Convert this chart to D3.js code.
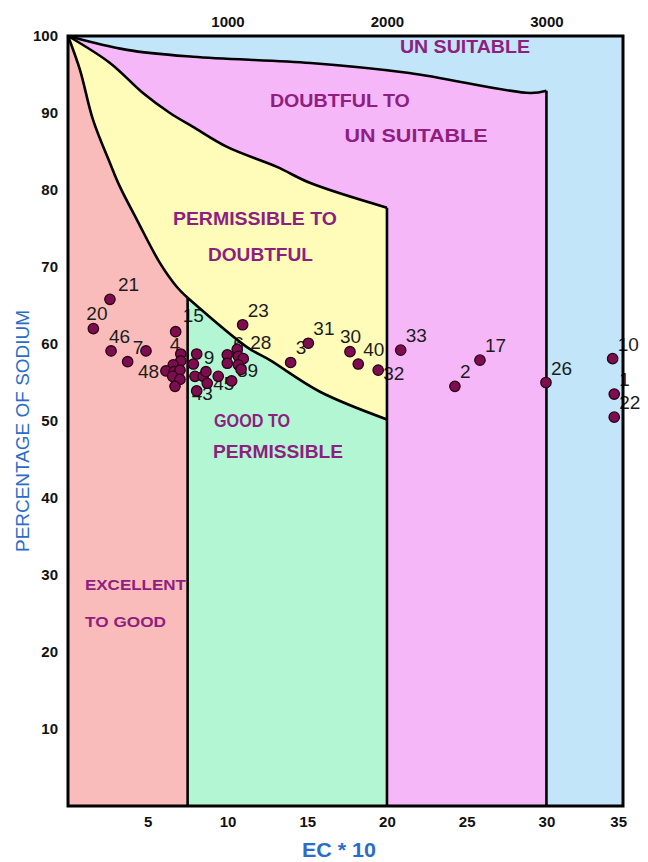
<!DOCTYPE html>
<html><head><meta charset="utf-8">
<script src="https://cdn.jsdelivr.net/npm/d3@7"></script>
<style>body{margin:0;background:#fff}svg{display:block}</style>
</head><body><svg id="c" width="648" height="862"></svg>
<script>
// ---------- DATA ----------
const sampleIds = ["21","20","46","7","","15","4","9","","","","48","","","","","","","","","","45","","43","","","6","","28","","39","23","3","31","30","40","32","33","2","17","26","10","1","22"];
const ecValues  = [2.63,1.59,2.70,3.74,4.89,6.75,7.07,8.07,7.07,6.60,7.86,6.14,6.65,7.02,6.56,7.02,6.71,7.96,8.48,8.65,8.73,9.42,10.26,8.07,9.99,9.99,10.61,10.68,10.99,10.68,10.85,10.95,13.96,15.07,17.68,18.20,19.45,20.86,24.26,25.83,29.97,34.15,34.25,34.25];
const sodiumPct = [65.8,62.0,59.1,57.7,59.1,61.6,58.7,58.7,57.8,57.3,57.4,56.5,56.4,56.6,55.8,55.4,54.5,55.8,55.8,56.4,54.9,55.8,55.2,53.9,58.6,57.5,59.3,58.4,58.1,57.3,56.7,62.5,57.6,60.1,59.0,57.4,56.6,59.2,54.5,57.9,55.0,58.1,53.5,50.5];

const yTickValues = [10,20,30,40,50,60,70,80,90,100];
const xTickValues = [5,10,15,20,25,30,35];
const topTickValues = [1000,2000,3000];

// class boundaries (EC*10, % Na)
const excellentCurveEc = [0,0.75,1.57,2.63,3.26,4.33,5.77,6.83,7.5];
const excellentCurveNa = [100,95.6,89.1,83.5,80.4,76.1,70.5,67.4,66.0];
const goodCurveEc = [7.5,11.22,12.66,15.8,20];
const goodCurveNa = [66.0,59.6,57.9,53.8,50.2];
const permissibleCurveEc = [0,2.63,4.70,6.39,7.84,9.97,13.1,15.2,20];
const permissibleCurveNa = [100,96.5,92.6,90.0,88.2,85.6,83.0,80.9,77.7];
const doubtfulCurveEc = [0,3.7,7.84,15.2,21.4,28.97,30];
const doubtfulCurveNa = [100,98.2,97.3,96.5,95.2,92.6,92.9];

const classNames = ["UN SUITABLE","DOUBTFUL TO","UN SUITABLE","PERMISSIBLE TO","DOUBTFUL","GOOD TO","PERMISSIBLE","EXCELLENT","TO GOOD"];

// ---------- LAYOUT ----------
const X0 = 0, X1 = 34.8;
const svg = d3.select("#c");
const x = d3.scaleLinear().domain([X0, X1]).range([68, 623]);
const y = d3.scaleLinear().domain([0, 100]).range([806, 36]);

const colors = {pink:"#f9bcbb", yellow:"#fffcb9", green:"#b3f6d4", magenta:"#f6b7f9", blue:"#c2e5f9", text:"#8e1f80", axisTitle:"#2a6cc8", point:"#7d0d4f"};

const zip = (a,b) => a.map((v,i)=>[v,b[i]]);
const excellent = zip(excellentCurveEc, excellentCurveNa);
const good = zip(goodCurveEc, goodCurveNa);
const permissible = zip(permissibleCurveEc, permissibleCurveNa);
const doubtful = zip(doubtfulCurveEc, doubtfulCurveNa);

const curveLine = d3.line().x(d=>x(d[0])).y(d=>y(d[1])).curve(d3.curveCatmullRom.alpha(0.5));
const polyPath = (curvePts, closing) => {
  const p = curveLine(curvePts);
  return p + closing.map(d=>"L"+x(d[0])+","+y(d[1])).join("") + "Z";
};
const last = a => a[a.length-1];

// fills
svg.append("rect").attr("x", x(X0)).attr("y", y(100)).attr("width", x(X1)-x(X0)).attr("height", y(0)-y(100)).attr("fill", colors.blue);
svg.append("path").attr("d", polyPath(doubtful, [[last(doubtfulCurveEc),0],[0,0]])).attr("fill", colors.magenta);
svg.append("path").attr("d", polyPath(permissible, [[last(permissibleCurveEc),0],[0,0]])).attr("fill", colors.yellow);
svg.append("path").attr("d", polyPath(good, [[last(goodCurveEc),0],[goodCurveEc[0],0]])).attr("fill", colors.green);
svg.append("path").attr("d", polyPath(excellent, [[last(excellentCurveEc),0],[0,0]])).attr("fill", colors.pink);

// class labels
const classPos = [[24.89,98.57],[17.05,91.69],[21.82,87.14],[11.72,76.36],[12.07,71.62],[11.54,50.0],[13.17,46.1],[4.23,28.7],[3.61,23.9]];
const classSize = [18,19,19,18,18,18,18,15,15];
const classLen = [130,140,143,164,105,76,130,101,81];
svg.append("g").selectAll("text").data(classNames).join("text")
  .attr("x", (d,i)=>x(classPos[i][0]))
  .attr("y", (d,i)=>y(classPos[i][1]) + classSize[i]*0.36)
  .attr("text-anchor","middle")
  .attr("font-family","'Liberation Sans', Arial, sans-serif")
  .attr("font-weight","bold")
  .attr("font-size",(d,i)=>classSize[i])
  .attr("textLength",(d,i)=>classLen[i])
  .attr("lengthAdjust","spacingAndGlyphs")
  .attr("fill", colors.text)
  .text(d=>d);

// point labels (under lines and points)
const labelOffset = {"20":[-7,-9],"46":[-2,-8],"4":[-11,-3],"9":[7,10],"48":[-28,7],"6":[-4,1],"39":[-4,8],"45":[-5,14],"43":[-5,9],"30":[-10,-9],"32":[5,10],"21":[8,-8],"15":[7,-10],"28":[7,-10]};
const pts = sampleIds.map((id,i)=>({id, ec:ecValues[i], na:sodiumPct[i]}));
svg.append("g").selectAll("text").data(pts.filter(d=>d.id!=="")).join("text")
  .attr("x", d=>x(d.ec) + (labelOffset[d.id]||[5,-8])[0])
  .attr("y", d=>y(d.na) + (labelOffset[d.id]||[5,-8])[1])
  .attr("font-family","'Liberation Sans', Arial, sans-serif")
  .attr("font-size",19)
  .attr("fill","#1c1c1c")
  .text(d=>d.id);

// boundary lines
const lineG = svg.append("g").attr("fill","none").attr("stroke","#000").attr("stroke-width",2.6).attr("stroke-linejoin","round");
const plainLine = d3.line().x(d=>x(d[0])).y(d=>y(d[1]));
[excellent, good, permissible, doubtful].forEach(c=>lineG.append("path").attr("d", curveLine(c)));
lineG.append("path").attr("d", plainLine([[7.5,0],[7.5,last(excellentCurveNa)]]));
lineG.append("path").attr("d", plainLine([[20,0],[20,last(permissibleCurveNa)]]));
lineG.append("path").attr("d", plainLine([[30,0],[30,last(doubtfulCurveNa)]]));
svg.append("rect").attr("x", x(X0)).attr("y", y(100)).attr("width", x(X1)-x(X0)).attr("height", y(0)-y(100))
  .attr("fill","none").attr("stroke","#000").attr("stroke-width",3);

// points
svg.append("g").selectAll("circle").data(pts).join("circle")
  .attr("cx", d=>x(d.ec)).attr("cy", d=>y(d.na)).attr("r",5.2)
  .attr("fill", colors.point).attr("stroke","#2a0016").attr("stroke-width",1.3);

// axes
const styleAxis = (g, size) => {
  g.select(".domain").remove();
  g.selectAll("line").remove();
  g.selectAll("text").attr("font-family","'Liberation Sans', Arial, sans-serif").attr("font-weight","bold").attr("font-size",size).attr("fill","#111");
};
svg.append("g").attr("transform",`translate(${x(X0)},0)`)
  .call(d3.axisLeft(y).tickValues(yTickValues).tickSize(0).tickPadding(10).tickFormat(d3.format("d")))
  .call(g=>styleAxis(g,15));
svg.append("g").attr("transform",`translate(0,${y(0)})`)
  .call(d3.axisBottom(x).tickValues(xTickValues).tickSize(0).tickPadding(10).tickFormat(d3.format("d")))
  .call(g=>styleAxis(g,15))
  .selectAll("text").attr("dx",(d)=>d===35?-8:0);
svg.append("g").attr("transform",`translate(0,${y(100)})`)
  .call(d3.axisTop(x).tickValues(topTickValues.map(v=>v/100)).tickSize(0).tickPadding(9).tickFormat(d=>String(d*100)))
  .call(g=>styleAxis(g,15));

// axis titles
svg.append("text").attr("transform",`translate(29,${(y(0)+y(100))/2+10}) rotate(-90)`)
  .attr("text-anchor","middle").attr("font-family","'Liberation Sans', Arial, sans-serif").attr("font-size",19)
  .attr("textLength",242).attr("lengthAdjust","spacingAndGlyphs")
  .attr("fill",colors.axisTitle).text("PERCENTAGE OF SODIUM");
svg.append("text").attr("x",339).attr("y",857).attr("text-anchor","middle")
  .attr("font-family","'Liberation Sans', Arial, sans-serif").attr("font-weight","bold").attr("font-size",20)
  .attr("textLength",74).attr("lengthAdjust","spacingAndGlyphs")
  .attr("fill",colors.axisTitle).text("EC * 10");
</script></body></html>
